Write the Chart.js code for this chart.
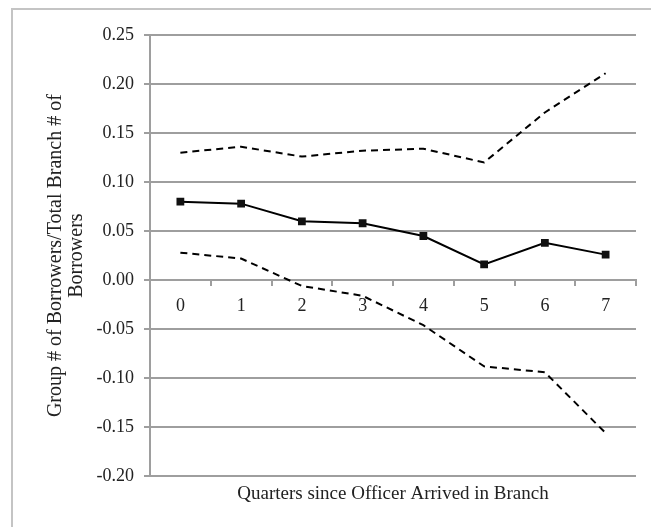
<!DOCTYPE html>
<html>
<head>
<meta charset="utf-8">
<script src="https://cdn.jsdelivr.net/npm/chart.js@4.4.1/dist/chart.umd.min.js"></script>
<style>
  body { margin: 0; background: #fff; }
  #cadre { position: absolute; left: 11px; top: 8px; width: 700px; height: 600px; border: 2px solid #c4c4c4; }
  #graph { position: absolute; left: 0; top: 0; }
</style>
</head>
<body>
<div id="cadre"></div>
<canvas id="graph" width="651" height="527"></canvas>
<script>
// trimestres depuis l'arrivée de l'agent
const quarters = ['0', '1', '2', '3', '4', '5', '6', '7'];

// estimation centrale + bornes de l'intervalle
const estimate = [0.080, 0.078, 0.060, 0.058, 0.045, 0.016, 0.038, 0.026];
const upperBound = [0.130, 0.136, 0.126, 0.132, 0.134, 0.120, 0.171, 0.211];
const lowerBound = [0.028, 0.022, -0.006, -0.016, -0.046, -0.088, -0.094, -0.156];

// graduations de l'axe y
const yMin = -0.20;
const yMax = 0.25;
const yStep = 0.05;

const serif = 'Liberation Serif';
const gris = '#9e9e9e';

new Chart(document.getElementById('graph').getContext('2d'), {
  type: 'line',
  data: {
    labels: quarters,
    datasets: [
      {
        data: estimate,
        borderColor: '#000',
        backgroundColor: '#111',
        borderWidth: 2,
        pointStyle: 'rect',
        pointRadius: 5.5,
        pointBorderWidth: 0,
        tension: 0
      },
      {
        data: upperBound,
        borderColor: '#000',
        borderWidth: 2,
        borderDash: [7, 5],
        pointRadius: 0,
        tension: 0
      },
      {
        data: lowerBound,
        borderColor: '#000',
        borderWidth: 2,
        borderDash: [7, 5],
        pointRadius: 0,
        tension: 0
      }
    ]
  },
  options: {
    responsive: false,
    animation: false,
    layout: { padding: { left: 0, top: 35, right: 15, bottom: 0 } },
    plugins: {
      legend: { display: false },
      tooltip: { enabled: false },
      title: {
        display: true,
        position: 'bottom',
        fullSize: false,
        text: 'Quarters since Officer Arrived in Branch',
        color: '#222',
        font: { family: serif, size: 19, weight: 'normal', lineHeight: 1.2 },
        padding: { top: 6, bottom: 22 }
      }
    },
    scales: {
      x: {
        position: { y: 0 },
        offset: true,
        grid: { drawOnChartArea: false, offset: true, tickLength: 5, color: gris, lineWidth: 2 },
        border: { display: true, color: gris, width: 2 },
        ticks: { color: '#222', padding: 10, font: { family: serif, size: 18 } }
      },
      y: {
        min: yMin,
        max: yMax,
        afterFit: function (scale) { scale.width = 150; },
        grid: { color: gris, lineWidth: 2, tickLength: 6 },
        border: { display: true, color: gris, width: 2 },
        ticks: {
          stepSize: yStep,
          color: '#222',
          padding: 10,
          font: { family: serif, size: 18 },
          callback: function (value) { return value.toFixed(2); }
        },
        title: {
          display: true,
          text: ['Group # of Borrowers/Total Branch # of', 'Borrowers'],
          color: '#222',
          font: { family: serif, size: 20, lineHeight: 1.05 },
          padding: { top: 45, bottom: 0 }
        }
      }
    }
  }
});
</script>
</body>
</html>
